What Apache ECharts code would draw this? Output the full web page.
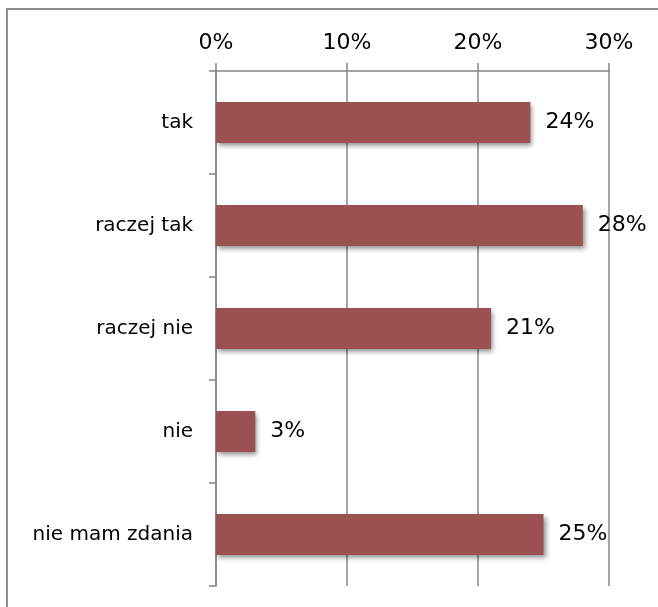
<!DOCTYPE html>
<html>
<head>
<meta charset="utf-8">
<script src="https://cdn.jsdelivr.net/npm/echarts@6/dist/echarts.min.js"></script>
<style>
  html, body { margin: 0; padding: 0; background: #fff; }
  #chart { width: 658px; height: 607px; }
</style>
</head>
<body>
<div id="chart"></div>
<script>
// Survey answers and their shares (percent)
const categories = ['tak', 'raczej tak', 'raczej nie', 'nie', 'nie mam zdania'];
const shares = [24, 28, 21, 3, 25];
const axisTicks = [0, 10, 20, 30];

const FONT = '"DejaVu Sans", sans-serif';
const GRID_COLOR = '#878787';

const chart = echarts.init(document.getElementById('chart'));
chart.setOption({
  animation: false,
  backgroundColor: '#ffffff',
  graphic: [{
    type: 'rect',
    shape: { x: 7, y: 9, width: 720, height: 700 },
    style: { fill: 'none', stroke: '#8c8c8c', lineWidth: 2 },
    silent: true
  }],
  grid: { left: 216, right: 49, top: 71, bottom: 21 },
  xAxis: {
    type: 'value',
    position: 'top',
    min: axisTicks[0],
    max: axisTicks[axisTicks.length - 1],
    interval: 10,
    axisLine: { show: true, lineStyle: { color: GRID_COLOR, width: 1.5 } },
    axisTick: { show: true, length: 8, lineStyle: { color: GRID_COLOR, width: 1.5 } },
    splitLine: { show: true, lineStyle: { color: GRID_COLOR, width: 1.5 } },
    axisLabel: {
      margin: 17,
      color: '#000',
      fontFamily: FONT,
      fontSize: 22,
      formatter: v => v + '%'
    }
  },
  yAxis: {
    type: 'category',
    inverse: true,
    data: categories,
    axisLine: { show: true, lineStyle: { color: GRID_COLOR, width: 1.5 } },
    axisTick: { show: true, length: 7, lineStyle: { color: GRID_COLOR, width: 1.5 } },
    axisLabel: {
      margin: 23,
      color: '#000',
      fontFamily: FONT,
      fontSize: 20
    }
  },
  series: [{
    type: 'bar',
    data: shares,
    barCategoryGap: '60%',
    itemStyle: {
      color: '#9b5152',
      shadowColor: 'rgba(0,0,0,0.45)',
      shadowBlur: 5,
      shadowOffsetX: 2,
      shadowOffsetY: 3
    },
    label: {
      show: true,
      position: 'right',
      distance: 15,
      color: '#000',
      fontFamily: FONT,
      fontSize: 22,
      formatter: p => p.value + '%'
    }
  }]
});
</script>
</body>
</html>
